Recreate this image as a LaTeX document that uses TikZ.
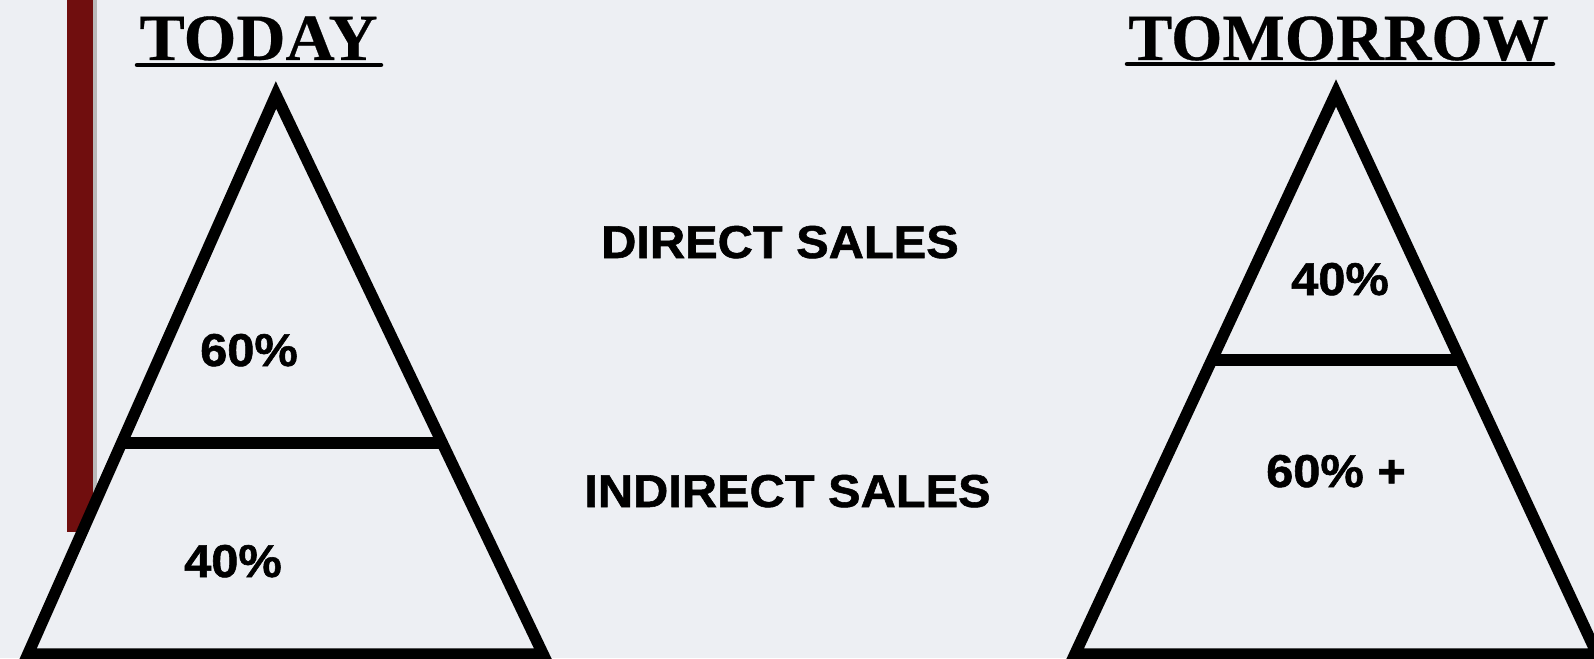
\documentclass[tikz,border=0pt]{standalone}
\usepackage{fontspec}
\setmainfont{Liberation Serif}
\newfontfamily\hvb{Liberation Sans Bold}[FakeBold=1.2]
\newfontfamily\tmb{Liberation Serif Bold}[FakeBold=0.4]
\usepackage{graphicx}
\usetikzlibrary{calc}
\definecolor{paper}{RGB}{237,239,243}
\definecolor{barred}{RGB}{112,14,14}
\newcommand{\wide}[1]{\scalebox{1.06}[1]{#1}}
\begin{document}
\begin{tikzpicture}[x=1pt,y=-1pt,
  tri/.style={draw=black,line width=11.5pt,line join=miter,fill=paper},
  divider/.style={draw=black,line width=11.5pt},
  title/.style={font=\tmb\fontsize{66}{70}\selectfont,anchor=base,inner sep=0pt},
  lab/.style={font=\hvb\fontsize{46}{50}\selectfont,anchor=base,inner sep=0pt},
  uline/.style={line width=4.5pt,line cap=round}]
\fill[paper] (0,0) rectangle (1594,658);
\useasboundingbox (0,0) rectangle (1594,658);
% red bar
\fill[barred] (67,0) rectangle (93,532);
\fill[gray!55] (93,0) rectangle (97,532);
% left triangle
\coordinate (LA) at (276,95);
\coordinate (LBL) at (28,654);
\coordinate (LBR) at (543,654);
\draw[tri] (LA) -- (LBR) -- (LBL) -- cycle;
\draw[divider] ($(LA)!0.6225!(LBL)$) -- ($(LA)!0.6225!(LBR)$);
% right triangle
\coordinate (RA) at (1336,93);
\coordinate (RBL) at (1075,654);
\coordinate (RBR) at (1597,654);
\draw[tri] (RA) -- (RBR) -- (RBL) -- cycle;
\draw[divider] ($(RA)!0.476!(RBL)$) -- ($(RA)!0.476!(RBR)$);
% titles
\node[title] (today) at (258.5,60) {\scalebox{1.03}[1]{TODAY}};
\draw[uline] (137,65) -- (381,65);
\node[title] (tomorrow) at (1338.5,60) {TOMORROW};
\draw[uline] (1127,64) -- (1553,64);
% labels
\node[lab] (direct) at (780,258) {\wide{DIRECT SALES}};
\node[lab] (indirect) at (787.5,507) {\wide{INDIRECT SALES}};
\node[lab] (l60) at (249,366) {\wide{60\%}};
\node[lab] (l40) at (233,577) {\wide{40\%}};
\node[lab] (r40) at (1340,295) {\wide{40\%}};
\node[lab] (r60) at (1336,487) {\wide{60\% +}};
\end{tikzpicture}
\end{document}
